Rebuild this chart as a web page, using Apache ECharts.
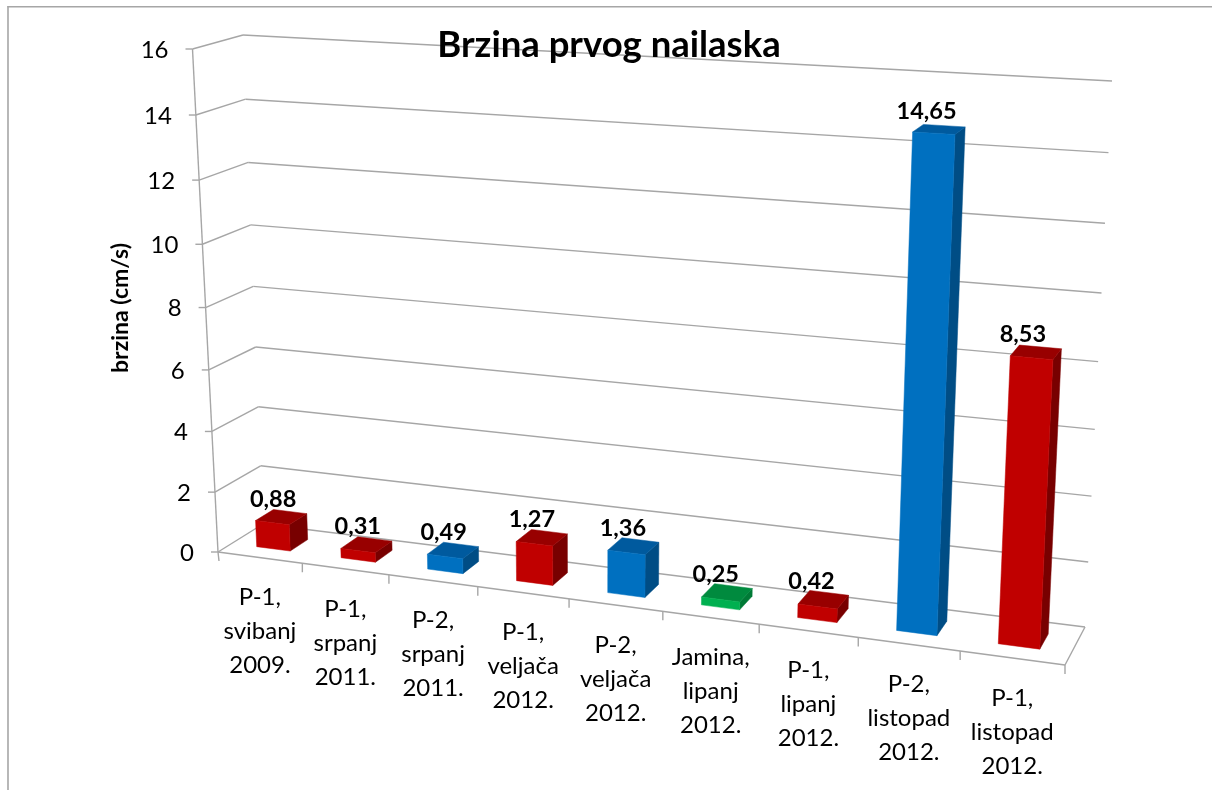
<!DOCTYPE html>
<html><head><meta charset="utf-8">
<style>html,body{margin:0;padding:0;background:#fff}#c{width:1212px;height:790px}</style>
<script src="https://cdn.jsdelivr.net/npm/echarts@6/dist/echarts.min.js"></script>
</head><body><div id="c"></div>
<script>
var categories = ['P-1,\nsvibanj\n2009.','P-1,\nsrpanj\n2011.','P-2,\nsrpanj\n2011.','P-1,\nveljača\n2012.','P-2,\nveljača\n2012.','Jamina,\nlipanj\n2012.','P-1,\nlipanj\n2012.','P-2,\nlistopad\n2012.','P-1,\nlistopad\n2012.'];
var speeds = [0.88,0.31,0.49,1.27,1.36,0.25,0.42,14.65,8.53];
var colourKeys = ['red','red','blue','red','blue','green','red','blue','red'];
var valueTicks = [0,2,4,6,8,10,12,14,16];
var chartTitle = 'Brzina prvog nailaska';
var axisTitle = 'brzina (cm/s)';

var palette = {
  red:{front:'#C00000',top:'#980000',side:'#780000'},
  blue:{front:'#0070C0',top:'#005A9E',side:'#004D85'},
  green:{front:'#00B050',top:'#008A3E',side:'#007A36'}
};
var FONT='Lato, Carlito, Calibri, sans-serif', GRID='#A6A6A6';

// Perspective of the Excel 3-D box: floor and ceiling quads as (u,d) -> pixel
function homography(q){ // q: (0,0),(1,0),(1,1),(0,1)
  var x0=q[0][0],y0=q[0][1],x1=q[1][0],y1=q[1][1],x2=q[2][0],y2=q[2][1],x3=q[3][0],y3=q[3][1];
  var dx1=x1-x2,dx2=x3-x2,sx=x0-x1+x2-x3,dy1=y1-y2,dy2=y3-y2,sy=y0-y1+y2-y3;
  var den=dx1*dy2-dx2*dy1, g=(sx*dy2-dx2*sy)/den, h=(dx1*sy-sx*dy1)/den;
  var a=x1-x0+g*x1,b=x3-x0+h*x3,c=x0,d=y1-y0+g*y1,e=y3-y0+h*y3,f=y0;
  return function(u,v){var w=g*u+h*v+1;return [(a*u+b*v+c)/w,(d*u+e*v+f)/w];};
}
var floorH = homography([[218,552],[1065,665],[1085,627],[263,524]]);
var ceilH  = homography([[192.5,49],[1092,99],[1112,81],[243,35]]);
var K = 0.0576, RF = 1.0655, RC = 1.02;
function warp(coordSys,p,d){
  var u=(p[0]-coordSys.x)/coordSys.width;
  var v=(coordSys.y+coordSys.height-p[1])/coordSys.height;
  var t=v/(1+K*(1-v));
  var F=floorH(RF*u/(1+(RF-1)*u),d),C=ceilH(RC*u/(1+(RC-1)*u),d);
  return [F[0]+(C[0]-F[0])*t,F[1]+(C[1]-F[1])*t];
}
function line(a,b){return {type:'line',shape:{x1:a[0],y1:a[1],x2:b[0],y2:b[1]},style:{stroke:GRID,lineWidth:1.4,fill:null},silent:true};}
function poly(pts,fill){return {type:'polygon',shape:{points:pts},style:{fill:fill,stroke:fill,lineWidth:0.5}};}
function frameLine(x1,y1,x2,y2){return {type:'line',shape:{x1:x1,y1:y1,x2:x2,y2:y2},style:{stroke:'#A6A6A6',lineWidth:1.6},silent:true,z:-10};}

var option={
  animation:false,
  backgroundColor:'#fff',
  title:{text:chartTitle,left:604,top:22,textAlign:'center',textStyle:{fontFamily:FONT,fontWeight:'bold',fontSize:36.5,color:'#000'}},
  grid:{left:192,top:56,width:870,height:504},
  xAxis:{type:'value',min:0,max:categories.length,show:false},
  yAxis:{type:'value',min:0,max:16,interval:2,
    name:axisTitle,nameLocation:'middle',nameGap:60,nameRotate:90,
    nameTextStyle:{fontFamily:FONT,fontWeight:'bold',fontSize:23,color:'#000'},
    axisLine:{show:false},axisTick:{show:false},axisLabel:{show:false},splitLine:{show:false}},
  graphic:[frameLine(7.5,6.8,1212,6.8),frameLine(8,6,8,790)],
  series:[
    { // gridlines + value labels
      type:'custom',coordinateSystem:'cartesian2d',silent:true,z:1,
      data:valueTicks.map(function(v){return [0,v];}),
      renderItem:function(params,api){
        var cs=params.coordSys,p0=api.coord([0,api.value(1)]),p1=api.coord([categories.length,api.value(1)]);
        var a=warp(cs,p0,0),b=warp(cs,p0,1),c=warp(cs,p1,1);
        return {type:'group',children:[line(a,b),line(b,c),line([a[0]-7,a[1]],a),
          {type:'text',style:{text:String(api.value(1)),x:a[0]-24,y:a[1]+1,align:'right',verticalAlign:'middle',fontFamily:FONT,fontSize:24,fill:'#000'}}]};
      }
    },
    { // floor edges, category ticks, category labels
      type:'custom',coordinateSystem:'cartesian2d',silent:true,z:1,
      data:categories.map(function(c,i){return [i];}).concat([[categories.length]]),
      renderItem:function(params,api){
        var cs=params.coordSys,i=api.value(0),a=warp(cs,api.coord([i,0]),0);
        var ch=[line(a,[a[0]+(i==0?1:0),a[1]+9])];
        if(i==0){ // left axis
          ch.push(line(a,warp(cs,api.coord([0,16]),0)));
          ch.push(line(a,warp(cs,api.coord([categories.length,0]),0)));
        }
        if(i==categories.length){
          ch.push(line(a,warp(cs,api.coord([i,0]),1)));
        }else{
          var m=warp(cs,api.coord([i+0.5,0]),0);
          ch.push({type:'text',style:{text:categories[i],x:m[0],y:m[1]+23,align:'center',verticalAlign:'top',lineHeight:34,fontFamily:FONT,fontSize:24,fill:'#000'}});
        }
        return {type:'group',children:ch};
      }
    },
    { // bars
      type:'custom',coordinateSystem:'cartesian2d',silent:true,z:2,
      data:speeds.map(function(v,i){return [i,v];}),
      renderItem:function(params,api){
        var cs=params.coordSys,i=api.value(0),v=api.value(1),c=palette[colourKeys[i]];
        var U0=i+0.3,U1=i+0.7,D0=0.3,D1=0.7;
        function P(u,val,d){return warp(cs,api.coord([u,val]),d);}
        var fb0=P(U0,0,D0),fb1=P(U1,0,D0),bb1=P(U1,0,D1);
        var ft0=P(U0,v,D0),ft1=P(U1,v,D0),bt1=P(U1,v,D1),bt0=P(U0,v,D1);
        var cx=(ft0[0]+bt1[0])/2,cy=(ft0[1]+bt1[1])/2;
        return {type:'group',children:[
          poly([fb1,bb1,bt1,ft1],c.side),
          poly([ft0,ft1,bt1,bt0],c.top),
          poly([fb0,fb1,ft1,ft0],c.front),
          {type:'text',style:{text:v.toFixed(2).replace('.',','),x:cx-8-5*i/8,y:cy-18,align:'center',verticalAlign:'middle',fontFamily:FONT,fontWeight:'bold',fontSize:23.5,fill:'#000'}}
        ]};
      }
    }
  ]
};
var chart=echarts.init(document.getElementById('c'),null,{renderer:'canvas'});
chart.setOption(option);
</script></body></html>
